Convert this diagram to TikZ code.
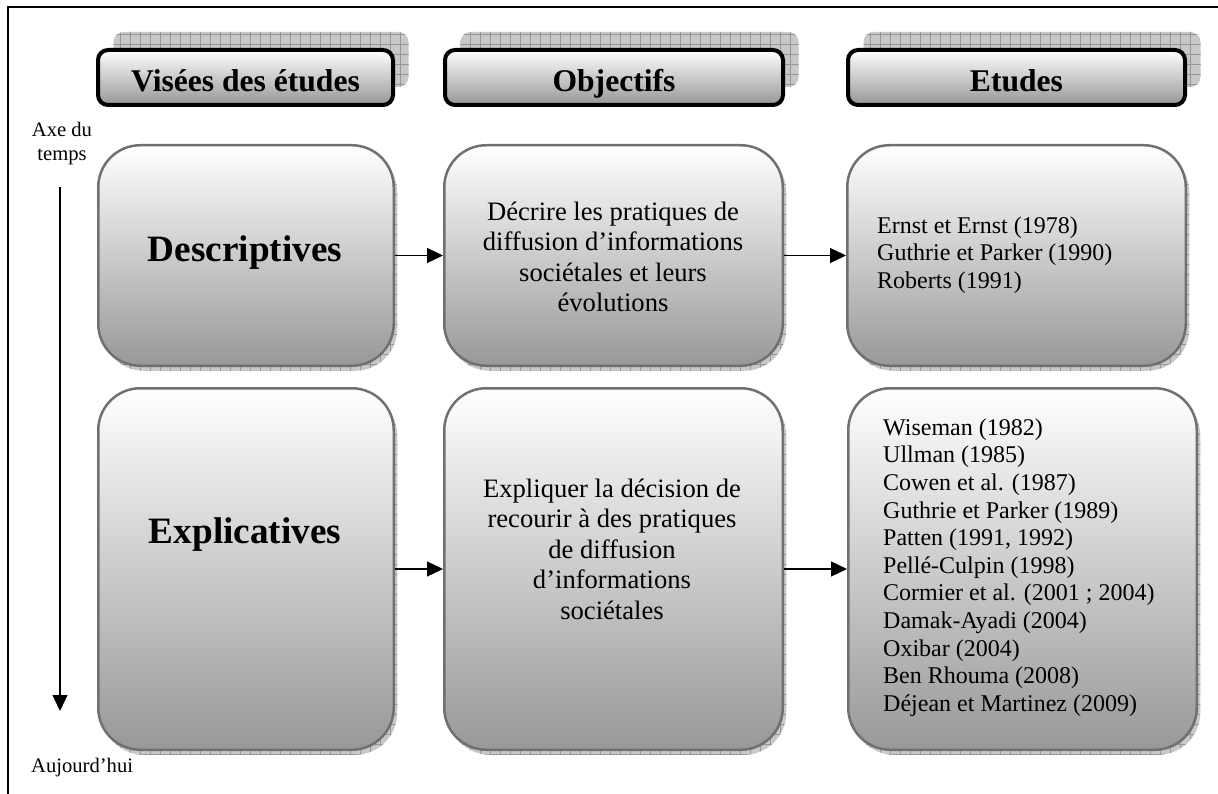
\documentclass[tikz,border=0pt]{standalone}
\usepackage{fontspec}
\setmainfont{Liberation Serif}
\usetikzlibrary{arrows.meta, shadows, patterns}

\definecolor{boxline}{RGB}{112,112,112}
\definecolor{boxgray}{RGB}{152,152,152}
\definecolor{headgray}{RGB}{150,150,150}
\definecolor{shadowgray}{RGB}{200,200,200}
\definecolor{gridgray}{RGB}{150,150,150}

\pgfdeclarepatternformonly{shadowgrid}{\pgfqpoint{-1pt}{-1pt}}{\pgfqpoint{11pt}{11pt}}{\pgfqpoint{10pt}{10pt}}{%
  \pgfsetlinewidth{0.6pt}%
  \pgfpathmoveto{\pgfqpoint{0pt}{0pt}}\pgfpathlineto{\pgfqpoint{10pt}{0pt}}%
  \pgfpathmoveto{\pgfqpoint{0pt}{0pt}}\pgfpathlineto{\pgfqpoint{0pt}{10pt}}%
  \pgfusepath{stroke}}

\tikzset{
  head/.style={draw=black, line width=4pt, rounded corners=10pt, top color=white, bottom color=headgray,
    inner sep=0pt, text height=29pt, text depth=0pt, font=\fontsize{31.6}{36}\selectfont\bfseries,
    general shadow={shadow xshift=15.5pt, shadow yshift=18pt, fill=shadowgray},
    general shadow={shadow xshift=15.5pt, shadow yshift=18pt, pattern=shadowgrid, pattern color=gridgray}},
  stage/.style={draw=boxline, line width=2.5pt, rounded corners=42pt, top color=white, bottom color=boxgray,
    inner sep=0pt,
    general shadow={shadow xshift=3.5pt, shadow yshift=-5pt, fill=shadowgray},
    general shadow={shadow xshift=3.5pt, shadow yshift=-5pt, pattern=shadowgrid, pattern color=gridgray}},
  bigword/.style={inner sep=0pt, font=\fontsize{37.2}{42}\selectfont\bfseries},
  midtext/.style={inner sep=0pt, align=center, font=\fontsize{26.6}{30.5}\selectfont},
  reflist/.style={inner sep=0pt, align=left, font=\fontsize{24}{27.6}\selectfont},
  axislbl/.style={inner sep=0pt, align=center, font=\fontsize{20.6}{24}\selectfont},
  link/.style={-{Triangle[length=16pt,width=15pt]}, line width=1.3pt}
}

\begin{document}
\begin{tikzpicture}[x=1pt,y=-1pt]
\useasboundingbox (0,0) rectangle (1218,794);

%frame
\draw[line width=1.5pt] (8,7) rectangle (1240,820);

%headers
\node[head, minimum width=295pt, minimum height=55pt] (hVisees) at (245.5,77.5) {Visées des études};
\node[head, minimum width=338pt, minimum height=55pt] (hObjectifs) at (614,77.5) {Objectifs};
\node[head, minimum width=337pt, minimum height=55pt] (hEtudes) at (1016.5,77.5) {Etudes};

%first row
\node[stage, minimum width=295.5pt, minimum height=220.5pt] (desc) at (246,255.5) {};
\node[stage, minimum width=338.5pt, minimum height=220.5pt] (decrire) at (613.5,255.5) {};
\node[stage, minimum width=338.5pt, minimum height=220.5pt] (refsA) at (1016.5,255.5) {};

%second row
\node[stage, minimum width=295.5pt, minimum height=361.5pt] (expl) at (246,569) {};
\node[stage, minimum width=338.5pt, minimum height=361.5pt] (expliquer) at (613.5,569) {};
\node[stage, minimum width=348.5pt, minimum height=361.5pt] (refsB) at (1022.5,569) {};

%texts
\node[bigword, anchor=base] (descTxt) at (245,262) {Descriptives};
\node[bigword, anchor=base] (explTxt) at (245,543) {Explicatives};
\node[midtext, anchor=north] (decrireTxt) at (613,198.6) {\strut Décrire les pratiques de\\diffusion d’informations\\sociétales et leurs\\évolutions};
\node[midtext, anchor=north] (expliquerTxt) at (612,475.6) {\strut Expliquer la décision de\\recourir à des pratiques\\de diffusion\\d’informations\\sociétales};
\node[reflist, anchor=north west] (refsATxt) at (877,213.7) {\strut Ernst et Ernst (1978)\\Guthrie et Parker (1990)\\Roberts (1991)};
\node[reflist, anchor=north west] (refsBTxt) at (883,415.7) {\strut Wiseman (1982)\\Ullman (1985)\\Cowen et al. (1987)\\Guthrie et Parker (1989)\\Patten (1991, 1992)\\Pellé-Culpin (1998)\\Cormier et al. (2001 ; 2004)\\Damak-Ayadi (2004)\\Oxibar (2004)\\Ben Rhouma (2008)\\Déjean et Martinez (2009)};

%links
\draw[link] (desc.east) -- (decrire.west);
\draw[link] (decrire.east) -- (refsA.west);
\draw[link] (expl.east) -- (expliquer.west);
\draw[link] (expliquer.east) -- (refsB.west);

%time axis
\node[axislbl, anchor=north] (axe) at (62,119.2) {\strut Axe du\\temps};
\node[axislbl, anchor=base west] (today) at (31,772) {Aujourd’hui};
\coordinate (axTop) at (60,187);
\coordinate (axBot) at (60,711);
\draw[link] (axTop) -- (axBot);

\end{tikzpicture}
\end{document}
